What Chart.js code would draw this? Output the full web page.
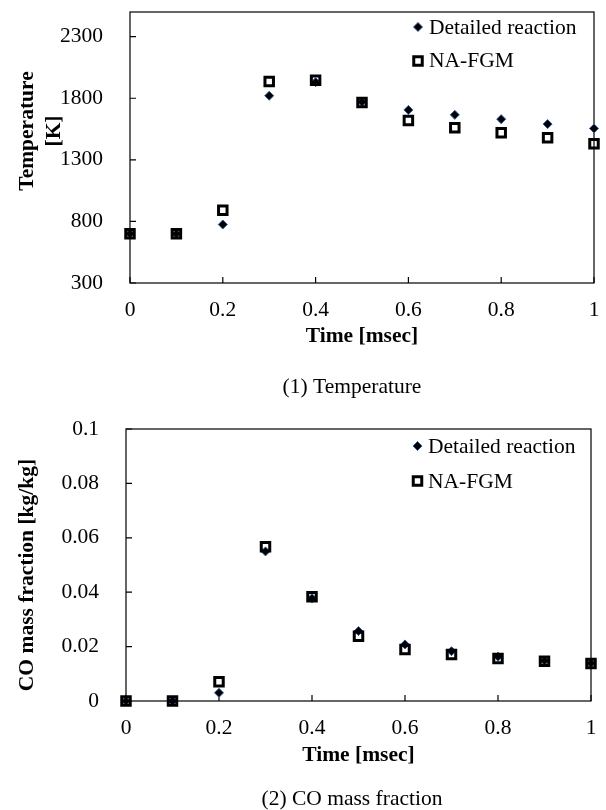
<!DOCTYPE html>
<html>
<head>
<meta charset="utf-8">
<title>Temperature and CO mass fraction</title>
<script src="https://cdn.jsdelivr.net/npm/chart.js@4.4.0/dist/chart.umd.min.js"></script>
<style>
  body { margin: 0; background: #fff; }
  canvas { display: block; }
</style>
</head>
<body>
<canvas id="tempChart" width="606" height="400"></canvas>
<canvas id="coChart" width="606" height="410"></canvas>
<script>
// time [msec]
const times = [0, 0.1, 0.2, 0.3, 0.4, 0.5, 0.6, 0.7, 0.8, 0.9, 1];
const timeTicks = [0, 0.2, 0.4, 0.6, 0.8, 1];

// temperature [K]
const tempDetailed = [700, 700, 775, 1820, 1930, 1770, 1705, 1665, 1630, 1590, 1555];
const tempFgm = [700, 700, 890, 1935, 1945, 1765, 1620, 1560, 1520, 1480, 1430];
const tempTicks = [300, 800, 1300, 1800, 2300];

// CO mass fraction [kg/kg]
const coDetailed = [0, 0, 0.003, 0.055, 0.0378, 0.0257, 0.0208, 0.0183, 0.0163, 0.0148, 0.0139];
const coFgm = [0, 0, 0.0071, 0.0567, 0.0383, 0.0238, 0.0189, 0.0171, 0.0156, 0.0146, 0.0138];
const coTicks = [0, 0.02, 0.04, 0.06, 0.08, 0.1];

const seriesNames = ['Detailed reaction', 'NA-FGM'];

const FONT = "'Liberation Serif', 'Times New Roman', serif";
const FONT_SIZE = 21.5;

function points(ys) {
  return times.map((t, i) => ({ x: t, y: ys[i] }));
}

// box frame and inward tick marks, drawn under the markers
const framePlugin = {
  id: 'frame',
  beforeDatasetsDraw(chart) {
    const { ctx, chartArea: a, scales } = chart;
    ctx.save();
    ctx.strokeStyle = '#000';
    ctx.lineWidth = 1.2;
    ctx.strokeRect(a.left, a.top, a.right - a.left, a.bottom - a.top);
    ctx.beginPath();
    scales.y.ticks.forEach((t, i) => {
      const y = scales.y.getPixelForTick(i);
      ctx.moveTo(a.left, y);
      ctx.lineTo(a.left + 6, y);
    });
    scales.x.ticks.forEach((t, i) => {
      const x = scales.x.getPixelForTick(i);
      ctx.moveTo(x, a.bottom);
      ctx.lineTo(x, a.bottom - 6);
    });
    ctx.stroke();
    ctx.restore();
  }
};

// axis titles, caption and the legend box in the upper right
const labelsPlugin = {
  id: 'labels',
  afterDraw(chart, args, opts) {
    const { ctx, chartArea: a } = chart;
    ctx.save();
    ctx.fillStyle = '#000';
    ctx.textBaseline = 'alphabetic';

    ctx.font = 'bold ' + FONT_SIZE + 'px ' + FONT;
    ctx.textAlign = 'center';
    opts.yTitle.forEach((line, i) => {
      ctx.save();
      ctx.translate(opts.yTitleX[i], opts.yTitleMid);
      ctx.rotate(-Math.PI / 2);
      ctx.fillText(line, 0, 0);
      ctx.restore();
    });
    ctx.fillText('Time [msec]', (a.left + a.right) / 2, opts.xTitleY);

    ctx.font = FONT_SIZE + 'px ' + FONT;
    ctx.fillText(opts.caption, opts.captionX, opts.captionY);

    ctx.textAlign = 'left';
    chart.data.datasets.forEach((ds, i) => {
      const style = {
        pointStyle: ds.pointStyle,
        radius: ds.pointRadius,
        rotation: 0,
        borderWidth: ds.borderWidth
      };
      ctx.save();
      ctx.fillStyle = ds.backgroundColor;
      ctx.strokeStyle = ds.borderColor;
      ctx.lineWidth = ds.borderWidth;
      Chart.helpers.drawPoint(ctx, style, opts.legendX, opts.legendMarkY[i]);
      ctx.restore();
      ctx.fillText(ds.label, opts.legendTextX, opts.legendTextY[i]);
    });
    ctx.restore();
  }
};

function makeChart(id, detailed, fgm, yTicks, yMin, yMax, layout, labels) {
  const tickFont = { family: FONT, size: FONT_SIZE };
  return new Chart(document.getElementById(id), {
    type: 'scatter',
    data: {
      datasets: [
        {
          label: seriesNames[1],
          data: points(fgm),
          pointStyle: 'rect',
          pointRadius: 6,
          backgroundColor: 'rgba(0,0,0,0)',
          borderColor: '#000',
          borderWidth: 3,
          clip: false
        },
        {
          label: seriesNames[0],
          data: points(detailed),
          pointStyle: 'rectRot',
          pointRadius: 4.5,
          backgroundColor: '#000',
          borderColor: '#2c5aa0',
          borderWidth: 1,
          clip: false
        }
      ]
    },
    options: {
      responsive: false,
      animation: false,
      layout: { padding: layout.padding, autoPadding: false },
      plugins: {
        legend: { display: false },
        tooltip: { enabled: false },
        labels: labels
      },
      scales: {
        x: {
          type: 'linear',
          min: 0,
          max: 1,
          grid: { display: false },
          border: { display: false },
          ticks: {
            font: tickFont,
            color: '#000',
            padding: 6,
            maxRotation: 0,
            autoSkip: false,
            callback: v => String(v)
          },
          afterBuildTicks: s => { s.ticks = timeTicks.map(v => ({ value: v })); },
          afterFit: s => {
            s.height = layout.xHeight;
            s.paddingLeft = 0;
            s.paddingRight = 0;
          }
        },
        y: {
          type: 'linear',
          min: yMin,
          max: yMax,
          grid: { display: false },
          border: { display: false },
          ticks: {
            font: tickFont,
            color: '#000',
            padding: 19,
            autoSkip: false,
            callback: v => String(v)
          },
          afterBuildTicks: s => { s.ticks = yTicks.map(v => ({ value: v })); },
          afterFit: s => {
            s.width = layout.yWidth;
            s.paddingTop = 0;
            s.paddingBottom = 0;
          }
        }
      }
    },
    plugins: [framePlugin, labelsPlugin]
  });
}

makeChart('tempChart', tempDetailed, tempFgm, tempTicks, 300, 2500,
  { padding: { top: 12, right: 12, left: 0, bottom: 0 }, yWidth: 130, xHeight: 117 },
  {
    yTitle: ['Temperature', '[K]'], yTitleX: [33, 60], yTitleMid: 131,
    xTitleY: 342,
    caption: '(1) Temperature', captionX: 352, captionY: 393,
    legendX: 418, legendMarkY: [61, 27], legendTextX: 429, legendTextY: [67, 34]
  });

makeChart('coChart', coDetailed, coFgm, coTicks, 0, 0.1,
  { padding: { top: 29, right: 15, left: 0, bottom: 0 }, yWidth: 126, xHeight: 109 },
  {
    yTitle: ['CO mass fraction [kg/kg]'], yTitleX: [33], yTitleMid: 175,
    xTitleY: 361,
    caption: '(2) CO mass fraction', captionX: 352, captionY: 405,
    legendX: 417.5, legendMarkY: [81, 46], legendTextX: 428, legendTextY: [87.5, 53]
  });
</script>
</body>
</html>
